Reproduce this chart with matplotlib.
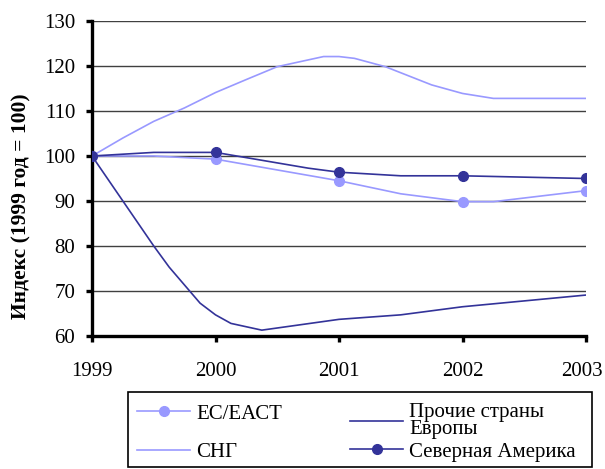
import matplotlib
matplotlib.use("Agg")
import matplotlib.pyplot as plt
import matplotlib.transforms as mtransforms
from matplotlib.ticker import MultipleLocator
from matplotlib.patches import Rectangle

plt.rcParams['font.family'] = ['Liberation Serif', 'DejaVu Serif']

# ЕС/ЕАСТ
eu_x = [1999, 1999.5, 2000, 2001, 2001.5, 2002, 2002.25, 2003]
eu_y = [100, 100, 99.3, 94.5, 91.6, 89.85, 89.85, 92.3]
eu_mx = [1999, 2000, 2001, 2002, 2003]
eu_my = [100, 99.3, 94.5, 89.85, 92.3]

# СНГ
cis_x = [1999, 1999.25, 1999.5, 1999.75, 2000, 2000.25, 2000.5, 2000.875,
         2001, 2001.125, 2001.375, 2001.75, 2002, 2002.25, 2003]
cis_y = [100, 104.0, 107.7, 110.7, 114.1, 117.0, 119.85, 122.1,
         122.1, 121.7, 119.85, 115.8, 113.9, 112.8, 112.8]

# Прочие страны Европы
oth_x = [1999, 1999.5, 1999.625, 1999.75, 1999.875, 2000, 2000.125,
         2000.375, 2001, 2001.5, 2002, 2003]
oth_y = [100, 80.0, 75.3, 71.3, 67.3, 64.7, 62.8, 61.3, 63.7, 64.7, 66.5, 69.1]

# Северная Америка
na_x = [1999, 1999.5, 2000, 2000.75, 2001, 2001.5, 2002, 2003]
na_y = [100, 100.8, 100.8, 97.3, 96.4, 95.6, 95.6, 95.0]
na_mx = [1999, 2000, 2001, 2002, 2003]
na_my = [100, 100.8, 96.4, 95.6, 95.0]

years = [1999, 2000, 2001, 2002, 2003]
labels = ['ЕС/ЕАСТ', 'СНГ', 'Прочие страны\nЕвропы', 'Северная Америка']

LIGHT = '#9999FF'
DARK = '#333399'
W, H = 605, 469

fig = plt.figure(figsize=(6.05, 4.69), dpi=100)
ax = fig.add_axes([92/W, 1-336/H, (586-92)/W, (336-21)/H])

ax.set_xlim(1999, 2003)
ax.set_ylim(60, 130)
ax.yaxis.set_major_locator(MultipleLocator(10))
ax.set_xticks(years)
ax.set_xticklabels([str(y) for y in years])
ax.grid(axis='y', color='#404040', linewidth=1.0)
ax.set_axisbelow(True)

lw = 1.2
ax.plot(eu_x, eu_y, color=LIGHT, lw=lw, zorder=3)
ax.plot(eu_mx, eu_my, 'o', color=LIGHT, ms=7, zorder=4)
ax.plot(cis_x, cis_y, color=LIGHT, lw=lw, zorder=3)
ax.plot(oth_x, oth_y, color=DARK, lw=lw, zorder=3)
ax.plot(na_x, na_y, color=DARK, lw=lw, zorder=3)
ax.plot(na_mx, na_my, 'o', color=DARK, ms=7, zorder=5)

for s in ['top', 'right']:
    ax.spines[s].set_visible(False)
for s in ['left', 'bottom']:
    ax.spines[s].set_linewidth(2.4)
    ax.spines[s].set_color('black')
ax.tick_params(axis='both', direction='out', length=4, width=2.4, labelsize=15, colors='black')
ax.tick_params(axis='x', pad=15)
ax.tick_params(axis='y', pad=8)

# last x label nudged left so it stays inside the picture
last = ax.get_xticklabels()[-1]
last.set_transform(last.get_transform() +
                   mtransforms.ScaledTranslation(-4/100, 0, fig.dpi_scale_trans))

ax.set_ylabel('Индекс (1999 год = 100)', fontsize=15.5, fontweight='bold')
ax.yaxis.set_label_coords(-0.123, 0.413)

# legend handles
h_eu, = ax.plot([], [], '-o', color=LIGHT, lw=lw, ms=7)
h_cis, = ax.plot([], [], '-', color=LIGHT, lw=lw)
h_oth, = ax.plot([], [], '-', color=DARK, lw=lw)
h_na, = ax.plot([], [], '-o', color=DARK, lw=lw, ms=7)

common = dict(loc='upper left', fontsize=15, frameon=False, handlelength=2.55,
              handletextpad=0.3, borderpad=0, borderaxespad=0)
leg1 = fig.legend([h_eu, h_cis], labels[:2], bbox_to_anchor=(137/W, 1-404/H),
                  labelspacing=0.9, **common)
leg2 = fig.legend([h_oth, h_na], labels[2:], bbox_to_anchor=(350/W, 1-403/H),
                  labelspacing=0.15, **common)
leg2.get_texts()[0].set_linespacing(0.85)

fig.patches.append(Rectangle((128/W, 1-467/H), (592-128)/W, (467-392)/H,
                             transform=fig.transFigure, fill=False,
                             edgecolor='black', linewidth=1.2))

fig.savefig('out.png', dpi=100)
